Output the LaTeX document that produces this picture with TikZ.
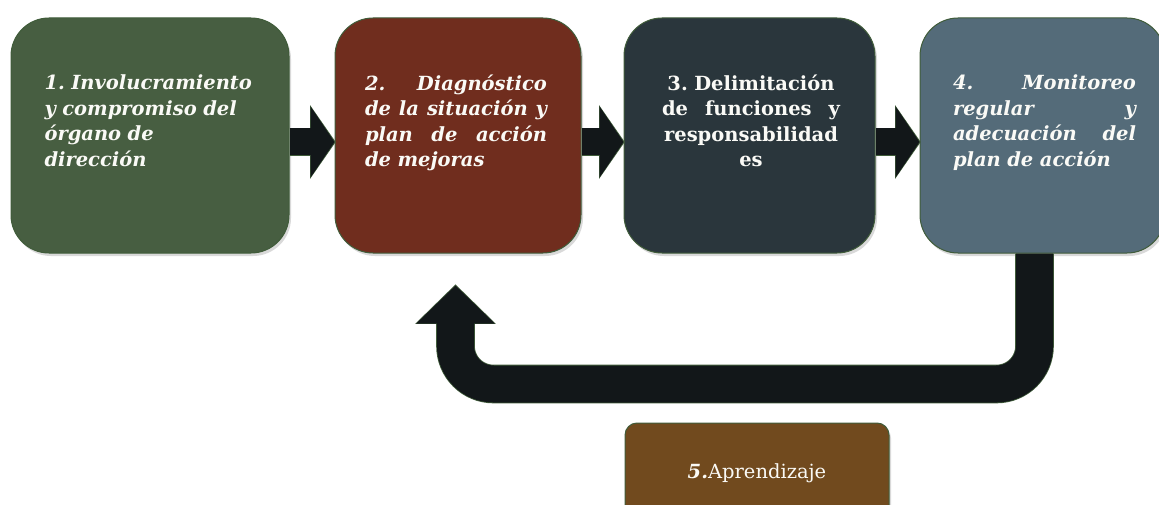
\documentclass[tikz,border=0pt]{standalone}
\usepackage{fontspec}
\setmainfont{DejaVu Serif}
\usetikzlibrary{arrows.meta,shadows}
\definecolor{inv}{RGB}{71,94,65}
\definecolor{diag}{RGB}{112,45,30}
\definecolor{deli}{RGB}{42,54,60}
\definecolor{moni}{RGB}{84,107,121}
\definecolor{apre}{RGB}{113,74,30}
\definecolor{flecha}{RGB}{18,23,25}
\definecolor{borde}{RGB}{64,92,58}
\definecolor{letra}{RGB}{250,250,246}

\frenchspacing
\newcommand{\tam}{\fontsize{19.5}{25.5}\selectfont\parindent=0pt}
\newcommand{\lleno}[2]{\makebox[#1][s]{\spaceskip=.3333em plus 1fil\relax #2}}

\begin{document}
\begin{tikzpicture}[x=1pt,y=-1pt]
\tikzstyle{every node}=[font=\tam, text=letra, inner sep=0pt]
\tikzstyle{caja}=[draw=borde, line width=1pt, rounded corners=38pt, minimum height=235pt,
  drop shadow={shadow xshift=2pt, shadow yshift=-3pt, opacity=.3}]
\tikzstyle{texto}=[anchor=north, align=left, font=\tam\bfseries\itshape]
\tikzstyle{flujo}=[line width=27pt, flecha, -{Triangle[length=24pt,width=70pt]},
  preaction={draw=borde, line width=28.6pt, shorten >=-1.2pt, -{Triangle[length=25.6pt,width=72.4pt]}}]
\tikzstyle{vuelta}=[line width=37pt, flecha, rounded corners=38pt, -{Triangle[length=38pt,width=76pt]},
  preaction={draw=borde, line width=38.6pt, shorten >=-1.2pt, -{Triangle[length=39.6pt,width=78.4pt]}}]
\useasboundingbox (0,0) rectangle (1159,505);

    % cajas
    \node[caja, fill=inv, minimum width=278pt] (b1) at (150,135.5) {};
    \node[caja, fill=diag, minimum width=246pt] (b2) at (458,135.5) {};
    \node[caja, fill=deli, minimum width=251pt] (b3) at (749.5,135.5) {};
    \node[caja, fill=moni, minimum width=245pt] (b4) at (1042.5,135.5) {};
    \node[caja, fill=apre, minimum width=264pt, minimum height=100pt, rounded corners=12pt] (b5) at (757,473) {\textbf{\textit{5.}}Aprendizaje};

    % textos
    \node[texto, text width=215pt] (t1) at ([xshift=2pt,yshift=-57pt]b1.north) {1. Involucramiento\\y compromiso del\\órgano de\\dirección};
    \node[texto, text width=182pt] (t2) at ([xshift=-2pt,yshift=-57pt]b2.north) {\lleno{182pt}{2. Diagnóstico}\\\lleno{182pt}{de la situación y}\\\lleno{182pt}{plan de acción}\\de mejoras};
    \node[texto, text width=178pt, align=center, font=\tam\bfseries] (t3) at ([xshift=1.5pt,yshift=-57pt]b3.north) {3. Delimitación\\\lleno{178pt}{de funciones y}\\responsabilidad\\es};
    \node[texto, text width=183pt] (t4) at ([xshift=2pt,yshift=-57pt]b4.north) {\lleno{183pt}{4. Monitoreo}\\\lleno{183pt}{regular y}\\\lleno{183pt}{adecuación del}\\plan de acción};

    % flechas
    \draw[flujo] ([yshift=-6.5pt]b1.east) -- ([yshift=-6.5pt]b2.west);
    \draw[flujo] ([yshift=-6.5pt]b2.east) -- ([yshift=-6.5pt]b3.west);
    \draw[flujo] ([yshift=-6.5pt]b3.east) -- ([yshift=-6.5pt]b4.west);

    \coordinate (u4) at ([xshift=-8pt]b4.south);
    \coordinate (u2) at ([xshift=-2.5pt,yshift=-32pt]b2.south);
    \coordinate (abajo) at (0,384);
    \draw[vuelta] (u4) -- (u4 |- abajo) -- (u2 |- abajo) -- (u2);
\end{tikzpicture}
\end{document}
